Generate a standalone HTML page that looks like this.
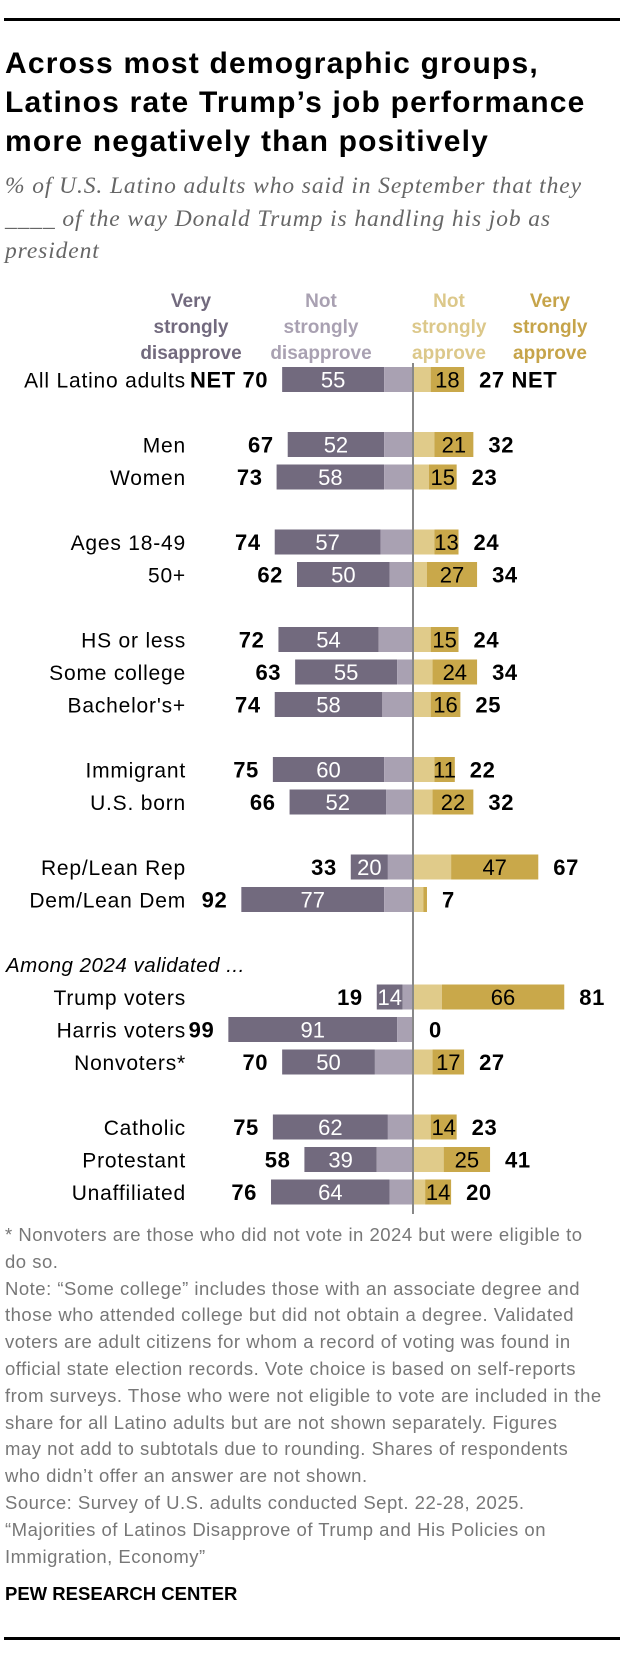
<!DOCTYPE html>
<html><head><meta charset="utf-8">
<style>
body{margin:0;background:#fff;width:620px;height:1660px;position:relative;overflow:hidden;font-family:"Liberation Sans",sans-serif;}
.rule{position:absolute;left:4px;right:0;height:3px;background:#000;}
#title{position:absolute;left:5px;top:44px;font-weight:bold;font-size:30px;letter-spacing:1.2px;line-height:39px;color:#000;white-space:nowrap;}
#subtitle{position:absolute;left:5px;top:170px;font-family:"Liberation Serif",serif;font-style:italic;font-size:23.5px;letter-spacing:0.9px;line-height:32.5px;color:#666;white-space:nowrap;}
#notes{position:absolute;left:5px;top:1222px;font-size:18.5px;letter-spacing:0.5px;line-height:26.8px;color:#777;white-space:nowrap;}
#pew{position:absolute;left:5px;top:1583px;font-size:18.5px;font-weight:bold;color:#000;}
svg{position:absolute;left:0;top:0;}
</style></head>
<body>
<div class="rule" style="top:18px"></div>
<div id="title">Across most demographic groups,<br>Latinos rate Trump’s job performance<br>more negatively than positively</div>
<div id="subtitle">% of U.S. Latino adults who said in September that they<br>____ of the way Donald Trump is handling his job as<br>president</div>
<svg id="chart" width="620" height="1660"></svg>
<div id="notes">* Nonvoters are those who did not vote in 2024 but were eligible to<br>do so.<br>Note: “Some college” includes those with an associate degree and<br>those who attended college but did not obtain a degree. Validated<br>voters are adult citizens for whom a record of voting was found in<br>official state election records. Vote choice is based on self-reports<br>from surveys. Those who were not eligible to vote are included in the<br>share for all Latino adults but are not shown separately. Figures<br>may not add to subtotals due to rounding. Shares of respondents<br>who didn’t offer an answer are not shown.<br>Source: Survey of U.S. adults conducted Sept. 22-28, 2025.<br>“Majorities of Latinos Disapprove of Trump and His Policies on<br>Immigration, Economy”</div>
<div id="pew">PEW RESEARCH CENTER</div>
<div class="rule" style="top:1637px"></div>
<script>
const categories=["All Latino adults","Men","Women","Ages 18-49","50+","HS or less","Some college","Bachelor's+","Immigrant","U.S. born","Rep/Lean Rep","Dem/Lean Dem","Trump voters","Harris voters","Nonvoters*","Catholic","Protestant","Unaffiliated"];
const rowSlots=[0,2,3,5,6,8,9,10,12,13,15,16,19,20,21,23,24,25];
const veryDisapprove=[55,52,58,57,50,54,55,58,60,52,20,77,14,91,50,62,39,64];
const notStronglyDisapprove=[15,15,15,17,12,18,8,16,15,14,13,15,5,8,20,13,19,12];
const netDisapprove=[70,67,73,74,62,72,63,74,75,66,33,92,19,99,70,75,58,76];
const notStronglyApprove=[9,11,8,11,7,9,10,9,11,10,20,5,15,0,10,9,16,6];
const veryApprove=[18,21,15,13,27,15,24,16,11,22,47,2,66,0,17,14,25,14];
const netApprove=[27,32,23,24,34,24,34,25,22,32,67,7,81,0,27,23,41,20];

const svg=document.getElementById('chart');
const NS='http://www.w3.org/2000/svg';
const AX=413, S=1.855, TOP=367, PITCH=32.5, BH=25;
const xL=v=>AX-1-v*S, xR=v=>AX+1+v*S, yRow=i=>TOP+rowSlots[i]*PITCH;
function mk(tag,attrs,txt){const e=document.createElementNS(NS,tag);for(const k in attrs)e.setAttribute(k,attrs[k]);if(txt!==undefined)e.textContent=txt;svg.appendChild(e);return e;}

const heads=[["Very","strongly","disapprove",191,"#726a7e"],["Not","strongly","disapprove",321,"#a9a1b2"],["Not","strongly","approve",449,"#dcc88a"],["Very","strongly","approve",550,"#c6a44a"]];
const headNames=['header-very-strongly-disapprove','header-not-strongly-disapprove','header-not-strongly-approve','header-very-strongly-approve'];
heads.forEach((h,k)=>{
  for(let j=0;j<3;j++){
    const t=mk('text',{x:h[3],y:307+j*26,'text-anchor':'middle','font-size':19,'font-weight':'bold',fill:h[4]},h[j]);
    
    
  }
});
const among=mk('text',{x:6,y:972,'font-size':20.5,'letter-spacing':0.5,'font-style':'italic',fill:'#000'},'Among 2024 validated ...');



categories.forEach((c,i)=>{
  const y=yRow(i), cy=y+BH/2+8;
  const lab=mk('text',{x:186,y:cy,'text-anchor':'end','font-size':21,'letter-spacing':0.8,fill:'#000'},c);
  
  
  const nd=netDisapprove[i], vd=veryDisapprove[i];
  let r=mk('rect',{x:xL(nd),y:y,width:vd*S,height:BH,fill:'#726a7e'});
  
  
  r=mk('rect',{x:xL(nd)+vd*S,y:y,width:(AX-1)-(xL(nd)+vd*S),height:BH,fill:'#a9a1b2'});
  
  
  const na=notStronglyApprove[i], va=veryApprove[i];
  r=mk('rect',{x:xR(0),y:y,width:na*S,height:BH,fill:'#e0cb8a'});
  
  
  r=mk('rect',{x:xR(na),y:y,width:va*S,height:BH,fill:'#c9a84a'});
  
  
  let t=mk('text',{x:xL(nd)+vd*S/2,y:cy,'text-anchor':'middle','font-size':22,fill:'#fff'},vd);
  
  
  if(va>=5){
    t=mk('text',{x:xR(na)+va*S/2,y:cy,'text-anchor':'middle','font-size':22,fill:'#000'},va);
    
    
  }
  t=mk('text',{x:xL(nd)-14,y:cy,'text-anchor':'end','font-size':22,'letter-spacing':0.6,'font-weight':'bold',fill:'#000'},(i===0?'NET ':'')+nd);
  
  
  t=mk('text',{x:xR(netApprove[i])+15,y:cy,'text-anchor':'start','font-size':22,'letter-spacing':0.6,'font-weight':'bold',fill:'#000'},netApprove[i]+(i===0?' NET':''));
  
  
});
const axis=mk('line',{x1:AX,x2:AX,y1:363,y2:1214,stroke:'#888','stroke-width':2});


</script>
</body></html>
